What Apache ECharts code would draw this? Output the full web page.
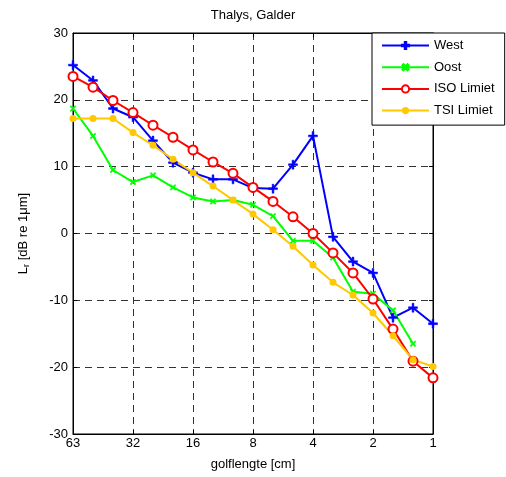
<!DOCTYPE html>
<html>
<head>
<meta charset="utf-8">
<script src="https://cdn.jsdelivr.net/npm/echarts@6/dist/echarts.min.js"></script>
<style>html,body{margin:0;padding:0;background:#fff}#c{width:506px;height:477px}</style>
</head>
<body>
<div id="c"></div>
<script>
// third-octave wavelength bands [cm], left to right
var bands = ['63','50','40','31.5','25','20','16','12.5','10','8','6.3','5','4','3.15','2.5','2','1.6','1.25','1'];
var tickLabels = ['63','32','16','8','4','2','1'];
var west = [25.2,22.9,18.7,17.4,13.9,10.6,9.1,8.1,8.1,6.8,6.7,10.3,14.6,-0.5,-4.2,-5.9,-12.6,-11.1,-13.5];
var oost = [18.7,14.6,9.5,7.7,8.7,6.9,5.4,4.8,5.0,4.3,2.6,-1.1,-1.1,-3.6,-8.7,-9.0,-11.5,-16.5,null];
var iso  = [23.5,21.9,19.9,18.1,16.2,14.4,12.5,10.7,9.0,6.9,4.8,2.5,0.0,-2.9,-5.9,-9.8,-14.3,-19.1,-21.6];
var tsi  = [17.2,17.2,17.2,15.1,13.2,11.1,9.1,7.1,5.0,2.9,0.55,-1.9,-4.7,-7.3,-9.2,-11.9,-15.3,-18.9,-19.9];

var FONT = 'Liberation Sans';
var cross = 'path://M-0.8,-4 H0.8 V-0.8 H4 V0.8 H0.8 V4 H-0.8 V0.8 H-4 V-0.8 H-0.8 Z';
var chart = echarts.init(document.getElementById('c'), null, {renderer: 'canvas'});
function mk(name, data, color, symbol, size, bw, extra) {
  var s = {
    name: name, type: 'line', data: data, connectNulls: false,
    symbol: symbol, symbolSize: size,
    lineStyle: {color: color, width: 2},
    itemStyle: {color: color, borderColor: color, borderWidth: bw},
    emphasis: {disabled: true}, animation: false
  };
  for (var k in extra) s[k] = extra[k];
  return s;
}
var grid = {left: 73, right: 73, top: 33, bottom: 43, show: true, borderColor: '#000', borderWidth: 1, backgroundColor: '#fff'};
var splitDash = {show: true, lineStyle: {color: '#333', type: [7, 5], width: 1}};
chart.setOption({
  backgroundColor: '#fff',
  textStyle: {fontFamily: FONT},
  title: {text: 'Thalys, Galder', left: 'center', top: 4,
    textStyle: {fontFamily: FONT, fontSize: 13, fontWeight: 'normal', color: '#000'}},
  grid: grid,
  legend: {
    orient: 'vertical', left: 372, top: 33,
    padding: [6, 10, 8, 9],
    itemWidth: 47, itemHeight: 9, itemGap: 8.7,
    borderColor: '#000', borderWidth: 1, backgroundColor: '#fff',
    textStyle: {fontFamily: FONT, fontSize: 13, color: '#000'},
    data: ['West', 'Oost', 'ISO Limiet', 'TSI Limiet']
  },
  xAxis: [{
    type: 'category', data: bands, boundaryGap: false,
    name: 'golflengte [cm]', nameLocation: 'middle', nameGap: 24,
    nameTextStyle: {fontFamily: FONT, fontSize: 13, color: '#000'},
    axisLine: {onZero: false, lineStyle: {color: '#000'}},
    axisTick: {inside: true, length: 4, interval: 2, lineStyle: {color: '#000'}},
    axisLabel: {interval: 2, margin: 3, fontFamily: FONT, fontSize: 13, color: '#000',
      formatter: function (v, i) { return tickLabels[i / 3]; }},
    splitLine: {show: true, interval: 2, lineStyle: {color: '#333', type: [7, 5], width: 1}}
  }, {
    type: 'category', data: bands, boundaryGap: false, position: 'top',
    axisLine: {onZero: false, lineStyle: {color: '#000'}},
    axisTick: {inside: true, length: 4, interval: 2, lineStyle: {color: '#000'}},
    axisLabel: {show: false}, splitLine: {show: false}
  }],
  yAxis: [{
    type: 'value', min: -30, max: 30, interval: 10,
    name: '{a|L}{s|r}{a| [dB re 1μm]}', nameLocation: 'middle', nameGap: 42,
    nameTextStyle: {fontFamily: FONT, fontSize: 13, color: '#000',
      rich: {a: {fontFamily: FONT, fontSize: 13, color: '#000'},
             s: {fontFamily: FONT, fontSize: 9, color: '#000', padding: [7, 0, 0, 0]}}},
    axisLine: {show: true, onZero: false, lineStyle: {color: '#000'}},
    axisTick: {show: true, inside: true, length: 4, lineStyle: {color: '#000'}},
    axisLabel: {margin: 5, fontFamily: FONT, fontSize: 13, color: '#000'},
    splitLine: splitDash
  }, {
    type: 'value', min: -30, max: 30, interval: 10, position: 'right',
    axisLine: {show: true, onZero: false, lineStyle: {color: '#000'}},
    axisTick: {show: true, inside: true, length: 4, lineStyle: {color: '#000'}},
    axisLabel: {show: false}, splitLine: {show: false}
  }],
  series: [
    mk('West', west, '#0000FF', cross, 9, 0.5, {}),
    mk('Oost', oost, '#00FF00', cross, 7, 0.5, {symbolRotate: 45}),
    mk('ISO Limiet', iso, '#FF0000', 'emptyCircle', 9, 2, {}),
    mk('TSI Limiet', tsi, '#FFC800', 'circle', 7, 0, {})
  ]
});
</script>
</body>
</html>
